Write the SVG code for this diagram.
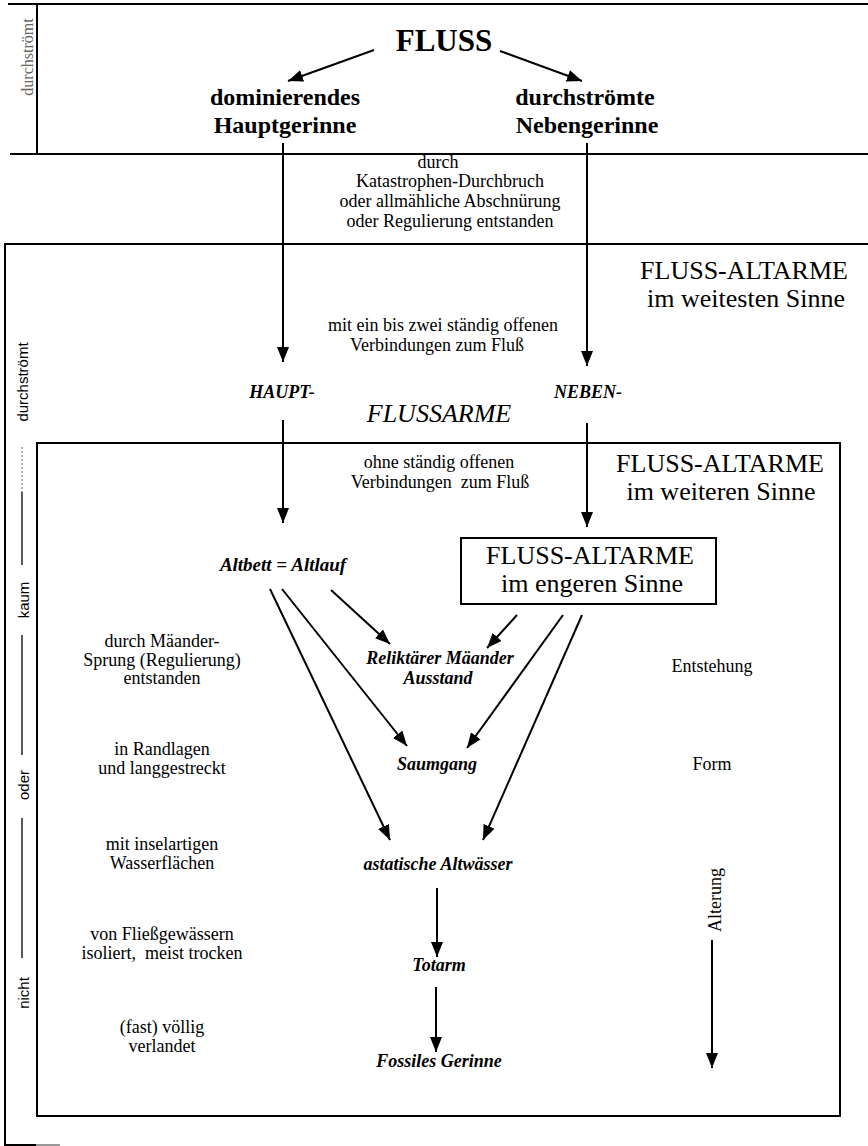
<svg xmlns="http://www.w3.org/2000/svg" width="868" height="1146" viewBox="0 0 868 1146">
<defs>
<marker id="ah" markerUnits="userSpaceOnUse" markerWidth="16" markerHeight="12" refX="15" refY="6" orient="auto">
<path d="M0,0 L15,6 L0,12 z" fill="#000"/>
</marker>
<style>
.frame{fill:none;stroke:#000;stroke-width:2}
.thin{fill:none;stroke:#000;stroke-width:1.3}
.con{fill:none;stroke:#000;stroke-width:2;marker-end:url(#ah)}
.s{font-family:"Liberation Serif",serif;font-size:18px;fill:#000;text-anchor:middle}
.b{font-family:"Liberation Serif",serif;font-weight:bold;fill:#000;text-anchor:middle}
.bi{font-family:"Liberation Serif",serif;font-weight:bold;font-style:italic;font-size:18px;fill:#000;text-anchor:middle}
.big{font-family:"Liberation Serif",serif;font-size:26px;fill:#000;text-anchor:middle}
.side{font-family:"Liberation Sans",sans-serif;font-size:15px;fill:#000;text-anchor:middle}
</style>
</defs>
<rect width="868" height="1146" fill="#fff"/>

<g id="frames">
<path class="frame" d="M8,4 H868 M37,4 V154 M10,154 H868"/>
<path class="frame" d="M868,244 H5 V1145 H36"/>
<path d="M36,1145 H60" stroke="#999" stroke-width="2"/>
<rect class="frame" x="37" y="443" width="803" height="673"/>
</g>

<g id="sidebar">
<text class="s" transform="translate(33,57) rotate(-90)" style="font-size:16px;fill:#666">durchströmt</text>
<text class="side" transform="translate(28,382) rotate(-90)">durchströmt</text>
<path d="M22,447 V492" stroke="#777" stroke-width="1.2" stroke-dasharray="2,2"/>
<path class="thin" d="M22,492 V565 M22,635 V755 M22,818 V958"/>
<text class="side" transform="translate(29,600) rotate(-90)">kaum</text>
<text class="side" transform="translate(29,785) rotate(-90)">oder</text>
<text class="side" transform="translate(29,993) rotate(-90)">nicht</text>
</g>

<g id="connectors">
<line class="con" x1="374" y1="50" x2="288" y2="81"/>
<line class="con" x1="500" y1="51" x2="582" y2="81"/>
<line class="con" x1="283" y1="143" x2="283" y2="362"/>
<line class="con" x1="587" y1="143" x2="587" y2="366"/>
<line class="con" x1="283" y1="420" x2="283" y2="523"/>
<line class="con" x1="587" y1="423" x2="587" y2="527"/>
<line class="con" x1="331" y1="590" x2="390" y2="644"/>
<line class="con" x1="282" y1="589" x2="407" y2="746"/>
<line class="con" x1="270" y1="589" x2="390" y2="840"/>
<line class="con" x1="517" y1="615" x2="487" y2="648"/>
<line class="con" x1="563" y1="615" x2="467" y2="748"/>
<line class="con" x1="582" y1="615" x2="483" y2="840"/>
<line class="con" x1="437" y1="888" x2="437" y2="957"/>
<line class="con" x1="436" y1="987" x2="436" y2="1052"/>
<line class="con" x1="712" y1="940" x2="712" y2="1068"/>
</g>

<g id="node-fluss"><text class="b" x="444" y="51" style="font-size:31px">FLUSS</text></g>
<g id="node-haupt"><text class="b" x="285" y="105" style="font-size:24px">dominierendes</text><text class="b" x="285" y="133" style="font-size:24px">Hauptgerinne</text></g>
<g id="node-neben"><text class="b" x="585" y="105" style="font-size:24px">durchströmte</text><text class="b" x="587" y="133" style="font-size:24px">Nebengerinne</text></g>

<g id="label-entstanden">
<text class="s" x="438" y="168">durch</text>
<text class="s" x="450" y="187">Katastrophen-Durchbruch</text>
<text class="s" x="450" y="207">oder allmähliche Abschnürung</text>
<text class="s" x="450" y="227">oder Regulierung entstanden</text>
</g>

<g id="label-weitesten"><text class="big" x="744" y="279">FLUSS-ALTARME</text><text class="big" x="746" y="307">im weitesten Sinne</text></g>
<g id="label-mit"><text class="s" x="443" y="331">mit ein bis zwei ständig offenen</text><text class="s" x="437" y="351">Verbindungen zum Fluß</text></g>
<g id="node-flussarme">
<text class="bi" x="282" y="398" style="font-size:18px">HAUPT-</text>
<text class="bi" x="588" y="398" style="font-size:18px">NEBEN-</text>
<text class="big" x="439" y="422" style="font-style:italic">FLUSSARME</text>
</g>
<g id="label-weiteren"><text class="big" x="720" y="472">FLUSS-ALTARME</text><text class="big" x="721" y="500">im weiteren Sinne</text></g>
<g id="label-ohne"><text class="s" x="439" y="468">ohne ständig offenen</text><text class="s" x="440" y="488" xml:space="preserve">Verbindungen  zum Fluß</text></g>

<g id="node-altbett"><text class="bi" x="283" y="571" style="font-size:19px">Altbett = Altlauf</text></g>
<g id="node-engeren">
<rect class="frame" x="461" y="538" width="255" height="66" fill="#fff"/>
<text class="big" x="590" y="564">FLUSS-ALTARME</text>
<text class="big" x="592" y="592">im engeren Sinne</text>
</g>
<g id="node-relikt"><text class="bi" x="440" y="664">Reliktärer Mäander</text><text class="bi" x="438" y="684">Ausstand</text></g>
<g id="node-saumgang"><text class="bi" x="437" y="770">Saumgang</text></g>
<g id="node-astatisch"><text class="bi" x="438" y="870">astatische Altwässer</text></g>
<g id="node-totarm"><text class="bi" x="439" y="971">Totarm</text></g>
<g id="node-fossil"><text class="bi" x="439" y="1067">Fossiles Gerinne</text></g>

<g id="left-notes">
<text class="s" x="162" y="647">durch Mäander-</text>
<text class="s" x="162" y="666">Sprung (Regulierung)</text>
<text class="s" x="162" y="684">entstanden</text>
<text class="s" x="162" y="755">in Randlagen</text>
<text class="s" x="162" y="774">und langgestreckt</text>
<text class="s" x="162" y="850">mit inselartigen</text>
<text class="s" x="162" y="869">Wasserflächen</text>
<text class="s" x="162" y="940">von Fließgewässern</text>
<text class="s" x="162" y="959" xml:space="preserve">isoliert,  meist trocken</text>
<text class="s" x="162" y="1033">(fast) völlig</text>
<text class="s" x="162" y="1052">verlandet</text>
</g>

<g id="right-notes">
<text class="s" x="712" y="672">Entstehung</text>
<text class="s" x="712" y="770">Form</text>
<text class="s" transform="translate(721,900) rotate(-90)">Alterung</text>
</g>
</svg>
